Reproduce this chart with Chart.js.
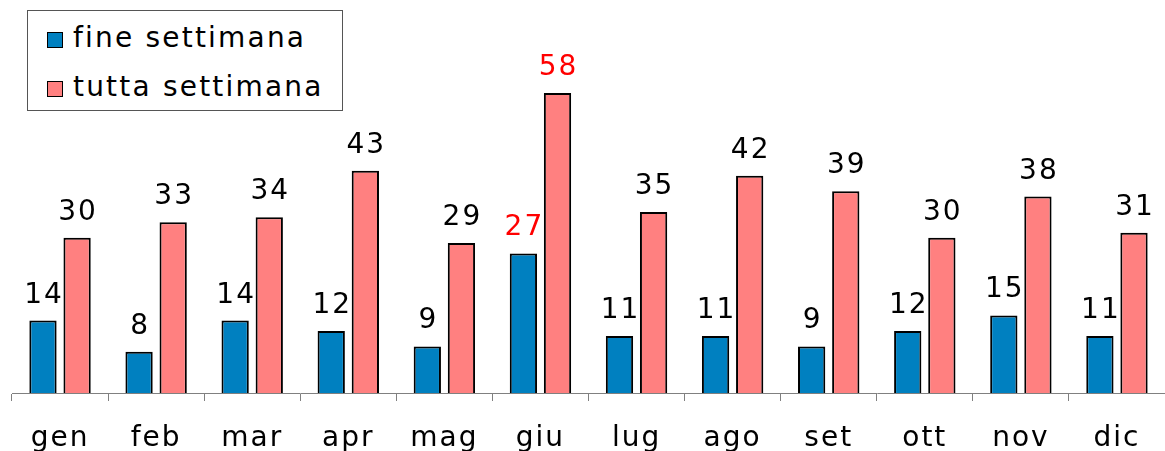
<!DOCTYPE html>
<html>
<head>
<meta charset="utf-8">
<script src="https://cdn.jsdelivr.net/npm/chart.js@4.4.0/dist/chart.umd.min.js"></script>
<style>
  html, body { margin: 0; padding: 0; background: #fff; }
  #wrap { position: relative; width: 1165px; height: 451px; }
  #legend {
    position: absolute; left: 27px; top: 10px; width: 314px; height: 99px;
    border: 1px solid #555; background: #fff;
    font-family: "DejaVu Sans", sans-serif; font-size: 28px; color: #000;
    letter-spacing: 2.2px;
  }
  .item { position: absolute; left: 19px; height: 30px; line-height: 30px; white-space: nowrap; }
  .sw { display: inline-block; width: 14px; height: 14px; border: 1.5px solid #000; margin-right: 10px; vertical-align: -1px; }
</style>
</head>
<body>
<div id="wrap">
  <canvas id="chart" width="1165" height="451"></canvas>
  <div id="legend">
    <div class="item" style="top:12px"><span class="sw" style="background:#0080c0"></span>fine settimana</div>
    <div class="item" style="top:61px"><span class="sw" style="background:#ff8080"></span>tutta settimana</div>
  </div>
</div>
<script>
// months on the x axis
const months = ['gen', 'feb', 'mar', 'apr', 'mag', 'giu', 'lug', 'ago', 'set', 'ott', 'nov', 'dic'];
// values
const fineSettimana = [14, 8, 14, 12, 9, 27, 11, 11, 9, 12, 15, 11];
const tuttaSettimana = [30, 33, 34, 43, 29, 58, 35, 42, 39, 30, 38, 31];
const highlight = 'giu';

const font = '"DejaVu Sans", sans-serif';

// the reference text is a bit wider than DejaVu, so space the letters out
const spacing = {
  id: 'spacing',
  beforeDraw(chart) { chart.ctx.letterSpacing = '2px'; }
};

// draw the numbers over each bar
const valueLabels = {
  id: 'valueLabels',
  afterDatasetsDraw(chart) {
    const ctx = chart.ctx;
    ctx.save();
    ctx.letterSpacing = '2px';
    ctx.font = '28px ' + font;
    ctx.textAlign = 'center';
    ctx.textBaseline = 'alphabetic';
    chart.data.datasets.forEach((ds, i) => {
      chart.getDatasetMeta(i).data.forEach((bar, j) => {
        ctx.fillStyle = months[j] === highlight ? '#ff0000' : '#000000';
        ctx.fillText(ds.data[j], bar.x + 1, bar.y - 18);
      });
    });
    ctx.restore();
  }
};

new Chart('chart', {
  type: 'bar',
  data: {
    labels: months,
    datasets: [{
      label: 'fine settimana',
      data: fineSettimana,
      backgroundColor: '#0080c0',
      borderColor: '#000',
      borderWidth: 2
    }, {
      label: 'tutta settimana',
      data: tuttaSettimana,
      backgroundColor: '#ff8080',
      borderColor: '#000',
      borderWidth: 2
    }]
  },
  options: {
    responsive: false,
    animation: false,
    layout: { padding: { left: 12, right: 0, top: 0, bottom: 0 } },
    categoryPercentage: 0.71,
    barPercentage: 0.8,
    plugins: { legend: { display: false }, tooltip: { enabled: false } },
    scales: {
      x: {
        afterFit: s => { s.height = 58; },
        grid: { offset: true, drawOnChartArea: false, tickLength: 8, tickColor: '#808080', tickWidth: 1 },
        border: { color: '#808080', width: 1 },
        ticks: { color: '#000', font: { family: font, size: 28 }, padding: 21 }
      },
      y: { display: false, min: 0, max: 76 }
    }
  },
  plugins: [spacing, valueLabels]
});
</script>
</body>
</html>
